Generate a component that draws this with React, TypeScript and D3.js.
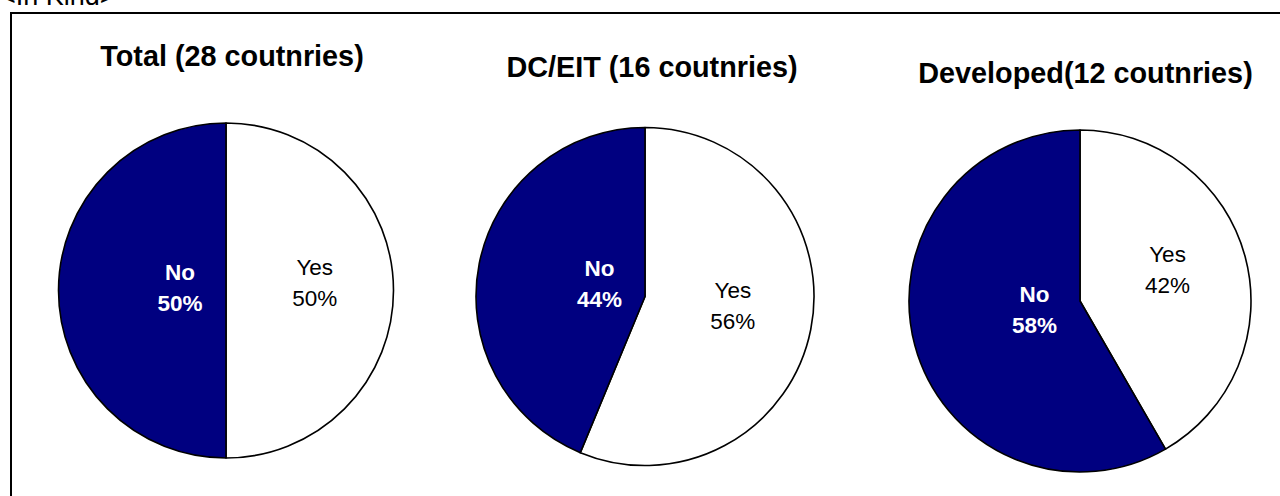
import React from "react";
import * as d3 from "d3";

const groups = ["Total (28 coutnries)", "DC/EIT (16 coutnries)", "Developed(12 coutnries)"];
const categories = ["Yes", "No"];
const yesCounts = [14, 9, 5];
const noCounts = [14, 7, 7];
const headerText = "<In Kind>";

const W = 1280;
const H = 496;
const pieCenters = [
  { cx: 226, cy: 290.5, r: 167.5, titleX: 232, titleY: 66 },
  { cx: 645, cy: 296.5, r: 169, titleX: 652, titleY: 77 },
  { cx: 1080, cy: 301, r: 171, titleX: 1085.5, titleY: 83 },
];
const NAVY = "#000080";
const FONT = "'Liberation Sans', Arial, Helvetica, sans-serif";

export default function App() {
  const pie = d3
    .pie<{ cat: string; v: number }>()
    .value((d) => d.v)
    .sort(null)
    .startAngle(0)
    .endAngle(2 * Math.PI);

  return (
    <svg
      width={W}
      height={H}
      style={{ position: "absolute", left: 0, top: 0, background: "#fff" }}
      fontFamily={FONT}
    >
      <text x={0} y={5} fontSize={27} fill="#000">
        {headerText}
      </text>
      <rect x={11} y={13} width={W + 20} height={H + 20} fill="none" stroke="#000" strokeWidth={2} />
      {groups.map((g, i) => {
        const geo = pieCenters[i];
        const total = yesCounts[i] + noCounts[i];
        const data = [
          { cat: categories[0], v: yesCounts[i] },
          { cat: categories[1], v: noCounts[i] },
        ];
        const arcs = pie(data);
        const arcGen = d3.arc<d3.PieArcDatum<{ cat: string; v: number }>>().innerRadius(0).outerRadius(geo.r);
        return (
          <g key={g}>
            <text
              x={geo.titleX}
              y={geo.titleY}
              textAnchor="middle"
              fontSize={28.8}
              fontWeight="bold"
              fill="#000"
            >
              {g}
            </text>
            <g transform={`translate(${geo.cx},${geo.cy})`}>
              {arcs.map((a) => (
                <path
                  key={a.data.cat}
                  d={arcGen(a) || ""}
                  fill={a.data.cat === "No" ? NAVY : "#fff"}
                  stroke="#000"
                  strokeWidth={1.6}
                  strokeLinejoin="round"
                />
              ))}
              {arcs.map((a) => {
                const isNo = a.data.cat === "No";
                const k = isNo ? 0.275 : 0.53;
                const lr = d3.arc<d3.PieArcDatum<{ cat: string; v: number }>>().innerRadius(0).outerRadius(2 * k * geo.r);
                const [x, y0] = lr.centroid(a);
                const y = isNo ? y0 - 2 : y0 - 7;
                const pct = Math.round((a.data.v / total) * 100);
                return (
                  <text
                    key={"l" + a.data.cat}
                    x={x}
                    textAnchor="middle"
                    fontSize={22.5}
                    fontWeight={isNo ? "bold" : "normal"}
                    fill={isNo ? "#fff" : "#000"}
                  >
                    <tspan x={x} y={y - 9}>{a.data.cat}</tspan>
                    <tspan x={x} y={y + 22}>{pct + "%"}</tspan>
                  </text>
                );
              })}
            </g>
          </g>
        );
      })}
    </svg>
  );
}
